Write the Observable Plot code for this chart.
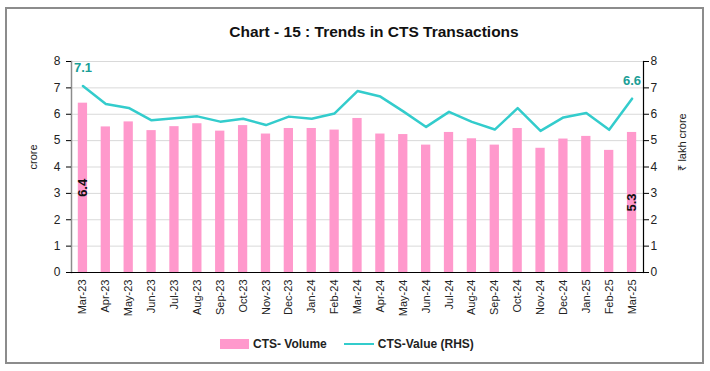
<!DOCTYPE html>
<html>
<head>
<meta charset="utf-8">
<script src="https://cdn.jsdelivr.net/npm/d3@7"></script>
<script src="https://cdn.jsdelivr.net/npm/@observablehq/plot@0.6"></script>
<style>
  html, body { margin: 0; padding: 0; background: #fff; }
  #wrap { position: relative; width: 710px; height: 371px; overflow: hidden; font-family: "Liberation Sans", Arial, sans-serif; }
  #border { position: absolute; left: 5px; top: 7px; width: 699px; height: 357px; border: 2px solid #8c8c8c; box-sizing: border-box; }
  #title { position: absolute; left: 0; width: 748px; top: 23px; text-align: center; font-weight: bold; font-size: 15.5px; color: #111; }
  #chart { position: absolute; left: 0; top: 0; }
  .ytitle { position: absolute; font-size: 11px; color: #222; white-space: nowrap; transform: translate(-50%, -50%) rotate(-90deg); }
  #legend { position: absolute; top: 337px; left: 220px; display: flex; align-items: center; font-size: 12px; font-weight: bold; color: #222; }
  .sw-bar { width: 29px; height: 10px; background: #ff99cc; margin-right: 4px; }
  .sw-line { width: 30px; height: 2.5px; background: #33cccc; margin-right: 4px; margin-left: 17px; }
</style>
</head>
<body>
<div id="wrap">
  <div id="border"></div>
  <div id="title">Chart - 15 : Trends in CTS Transactions</div>
  <div id="chart"></div>
  <div class="ytitle" style="left:33px; top:157px;">crore</div>
  <div class="ytitle" style="left:681px; top:142px;">₹ lakh crore</div>
  <div id="legend">
    <div class="sw-bar"></div><span>CTS- Volume</span>
    <div class="sw-line"></div><span>CTS-Value (RHS)</span>
  </div>
</div>
<script>
const months = ["Mar-23","Apr-23","May-23","Jun-23","Jul-23","Aug-23","Sep-23","Oct-23","Nov-23","Dec-23","Jan-24","Feb-24","Mar-24","Apr-24","May-24","Jun-24","Jul-24","Aug-24","Sep-24","Oct-24","Nov-24","Dec-24","Jan-25","Feb-25","Mar-25"];
const volume = [6.42,5.52,5.71,5.38,5.53,5.64,5.36,5.57,5.25,5.46,5.46,5.40,5.84,5.25,5.23,4.83,5.31,5.07,4.83,5.46,4.71,5.06,5.16,4.63,5.31];
const value  = [7.07,6.39,6.24,5.77,5.85,5.92,5.72,5.83,5.59,5.91,5.83,6.03,6.88,6.67,6.11,5.52,6.09,5.71,5.42,6.23,5.37,5.88,6.05,5.41,6.59];
const yTicks = [0,1,2,3,4,5,6,7,8];

const data = months.map((m, i) => ({month: m, volume: volume[i], value: value[i]}));
const ends = [data[0], data[data.length - 1]];

const chart = Plot.plot({
  width: 710,
  height: 330,
  marginLeft: 71,
  marginRight: 67,
  marginTop: 61,
  marginBottom: 58,
  style: {fontFamily: "'Liberation Sans', Arial, sans-serif", fontSize: "11px", color: "#222", background: "transparent"},
  x: {type: "band", domain: months, padding: 0, round: false, label: null},
  y: {domain: [0, 8], label: null},
  marks: [
    Plot.gridY(yTicks.slice(1), {stroke: "#d9d9d9", strokeOpacity: 1}),
    Plot.barY(data, {x: "month", y: "volume", fill: "#ff99cc", insetLeft: 6.8, insetRight: 6.8}),
    Plot.line(data, {x: "month", y: "value", stroke: "#33cccc", strokeWidth: 2.5}),
    Plot.axisX({tickRotate: -90, tickSize: 0, tickPadding: 7, label: null}),
    Plot.frame({anchor: "left", stroke: "#8c8c8c", strokeWidth: 1.5}),
    Plot.frame({anchor: "right", stroke: "#000", strokeWidth: 1.2}),
    Plot.ruleY([0], {stroke: "#000", strokeWidth: 1.2}),
    Plot.axisY({anchor: "left", ticks: yTicks, tickSize: 5, tickPadding: 6, stroke: "#000", label: null, fontSize: 12}),
    Plot.axisY({anchor: "right", ticks: yTicks, tickSize: 5, tickPadding: 2, stroke: "#000", label: null, fontSize: 12}),
    Plot.text(ends, {x: "month", y: "value", text: d => d.value.toFixed(1), dy: -18, fill: "#1a9e96", fontWeight: "bold", fontSize: 13}),
    Plot.text(ends, {x: "month", y: d => d.volume / 2, text: d => d.volume.toFixed(1), rotate: -90, fill: "#111", fontWeight: "bold", fontSize: 13})
  ]
});
document.getElementById("chart").appendChild(chart);
</script>
</body>
</html>
